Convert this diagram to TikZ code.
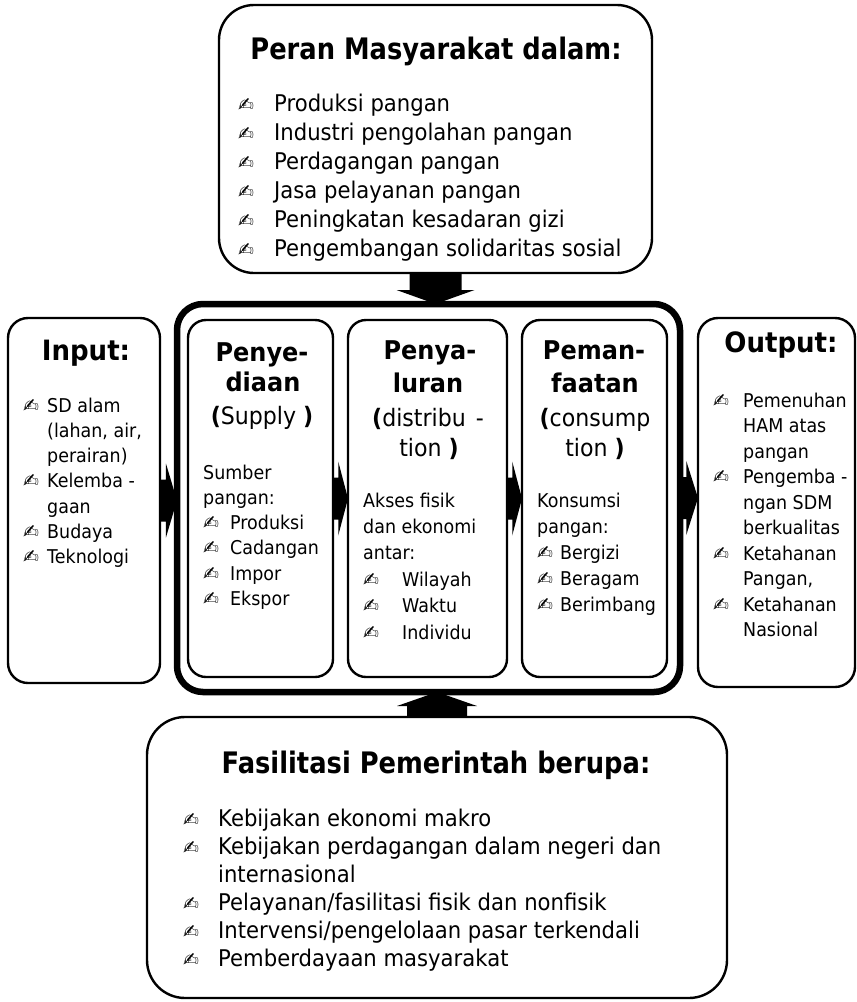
\documentclass[tikz,border=0pt]{standalone}
\usepackage{fontspec}
\setmainfont{DejaVu Sans}[FakeStretch=0.92]
\newfontfamily\hdA{DejaVu Sans}[FakeStretch=0.87]
\newfontfamily\hdB{DejaVu Sans}[FakeStretch=0.93]
\newfontfamily\bulf{DejaVu Sans}
\usetikzlibrary{calc}
\newlength\bw
\newcommand\bul{{\bulf\fontsize{19}{19}\selectfont ✍}}
\newcommand\B{\makebox[\bw][l]{\bul}}
\newcommand\I{\hspace*{\bw}}
\newcommand\fs[2]{\fontsize{#1}{#2}\selectfont}
\newcommand\bp[1]{{\bfseries #1}}
\begin{document}
\begin{tikzpicture}[x=1pt,y=-1pt,
  box/.style={draw, line width=2.4pt, rounded corners=#1, inner sep=0pt, outer sep=0pt, anchor=north west},
  box/.default=20pt,
  frame/.style={draw, line width=6.5pt, rounded corners=26pt, inner sep=0pt, outer sep=0pt, anchor=north west},
  bigtitle/.style={anchor=base, inner sep=0pt, font=\hdA\bfseries\fs{29.6}{32}},
  boxtitle/.style={anchor=base, inner sep=0pt, font=\hdB\bfseries\fs{28}{30}},
  coltitle/.style={anchor=base, inner sep=0pt, font=\hdB\bfseries\fs{25.8}{30}},
  paren/.style={anchor=base, inner sep=0pt, font=\fs{24}{28}},
  list/.style={anchor=base west, inner sep=0pt, font=\fs{19}{#1}},
  biglist/.style={anchor=base west, inner sep=0pt, font=\fs{23}{#1}},
]
\useasboundingbox (0,0) rectangle (857,1002);

% boxes
\node[box=35pt, minimum width=433pt, minimum height=268pt] (top) at (219,5) {};
\node[frame, minimum width=503pt, minimum height=388pt] (frame) at (177,304) {};
\node[box, minimum width=152pt, minimum height=365pt] (inp) at (8,318) {};
\node[box=18pt, minimum width=145pt, minimum height=357pt] (sup) at (188,320) {};
\node[box=18pt, minimum width=159pt, minimum height=357pt] (dist) at (348,320) {};
\node[box=18pt, minimum width=145pt, minimum height=357pt] (cons) at (522,320) {};
\node[box, minimum width=157pt, minimum height=369pt] (out) at (698,318) {};
\node[box=38pt, minimum width=580pt, minimum height=281pt] (bot) at (147,717) {};

% arrows (right-pointing)
\foreach \a/\b in {inp/frame, sup/dist, dist/cons, frame/out}{
  \fill let \p1=(\a.east), \p2=(\b.west), \n1={\x2-\x1} in
    (\x1,\y1+21pt) -- (\x1+0.35*\n1,\y1+21pt) -- (\x1+0.35*\n1,\y1+37pt) --
    (\x2,\y1) -- (\x1+0.35*\n1,\y1-37pt) -- (\x1+0.35*\n1,\y1-21pt) --
    (\x1,\y1-21pt) -- cycle;
}
% down arrow
\fill let \p1=(top.south), \p2=(frame.north) in
  (\x1-26pt,\y1) -- (\x1+26pt,\y1) -- (\x1+26pt,\y2+14pt) -- (\x1+39pt,\y2+14pt) --
  (\x1,\y2) -- (\x1-39pt,\y2+14pt) -- (\x1-26pt,\y2+14pt) -- cycle;
% up arrow
\fill let \p1=(bot.north), \p2=(frame.south) in
  (\x1-30pt,\y1) -- (\x1+30pt,\y1) -- (\x1+30pt,\y2-14pt) -- (\x1+40pt,\y2-14pt) --
  (\x1,\y2) -- (\x1-40pt,\y2-14pt) -- (\x1-30pt,\y2-14pt) -- cycle;

% top box text
\node[bigtitle] (ttop) at (436,59) {Peran Masyarakat dalam:};
\node[biglist=29pt] (ltop) at (238,111.5) {\setlength\bw{36pt}\begin{tabular}[t]{@{}l@{}}
\B Produksi pangan\\
\B Industri pengolahan pangan\\
\B Perdagangan pangan\\
\B Jasa pelayanan pangan\\
\B Peningkatan kesadaran gizi\\
\B Pengembangan solidaritas sosial
\end{tabular}};

% input
\node[boxtitle] (tinp) at (86,360) {Input:};
\node[list=25.3pt] (linp) at (23,412) {\setlength\bw{24pt}\begin{tabular}[t]{@{}l@{}}
\B SD alam\\
\I(lahan, air,\\
\I perairan)\\
\B Kelemba -\\
\I gaan\\
\B Budaya\\
\B Teknologi
\end{tabular}};

% penyediaan
\node[coltitle] (tsup1) at (262,361) {Penye-};
\node[coltitle] (tsup2) at (263,391) {diaan};
\node[paren] (tsup3) at (262,424) {\bp{(}Supply \bp{)}};
\node[list=25.3pt] (lsup) at (203,479) {\setlength\bw{27pt}\begin{tabular}[t]{@{}l@{}}
Sumber\\
pangan:\\
\B Produksi\\
\B Cadangan\\
\B Impor\\
\B Ekspor
\end{tabular}};

% penyaluran
\node[coltitle] (tdist1) at (430,359) {Penya-};
\node[coltitle] (tdist2) at (428,392) {luran};
\node[paren] (tdist3) at (428,426) {\bp{(}distribu\hspace{10pt}-};
\node[paren] (tdist4) at (429,456) {tion \bp{)}};
\node[list=26.4pt] (ldist) at (363,507) {\setlength\bw{39pt}\begin{tabular}[t]{@{}l@{}}
Akses fisik\\
dan ekonomi\\
antar:\\
\B Wilayah\\
\B Waktu\\
\B Individu
\end{tabular}};

% pemanfaatan
\node[coltitle] (tcons1) at (594,359) {Peman-};
\node[coltitle] (tcons2) at (595,392) {faatan};
\node[paren] (tcons3) at (595,426) {\bp{(}consump};
\node[paren] (tcons4) at (595,456) {tion \bp{)}};
\node[list=26pt] (lcons) at (537,507) {\setlength\bw{23pt}\begin{tabular}[t]{@{}l@{}}
Konsumsi\\
pangan:\\
\B Bergizi\\
\B Beragam\\
\B Berimbang
\end{tabular}};

% output
\node[boxtitle] (tout) at (781,352) {Output:};
\node[list=25.5pt] (lout) at (713,407) {\setlength\bw{30pt}\begin{tabular}[t]{@{}l@{}}
\B Pemenuhan\\
\I HAM atas\\
\I pangan\\
\B Pengemba -\\
\I ngan SDM\\
\I berkualitas\\
\B Ketahanan\\
\I Pangan,\\
\B Ketahanan\\
\I Nasional
\end{tabular}};

% bottom box text
\node[bigtitle] (tbot) at (436,773) {Fasilitasi Pemerintah berupa:};
\node[biglist=28pt] (lbot) at (183,826) {\setlength\bw{35pt}\begin{tabular}[t]{@{}l@{}}
\B Kebijakan ekonomi makro\\
\B Kebijakan perdagangan dalam negeri dan\\
\I internasional\\
\B Pelayanan/fasilitasi fisik dan nonfisik\\
\B Intervensi/pengelolaan pasar terkendali\\
\B Pemberdayaan masyarakat
\end{tabular}};
\end{tikzpicture}
\end{document}
